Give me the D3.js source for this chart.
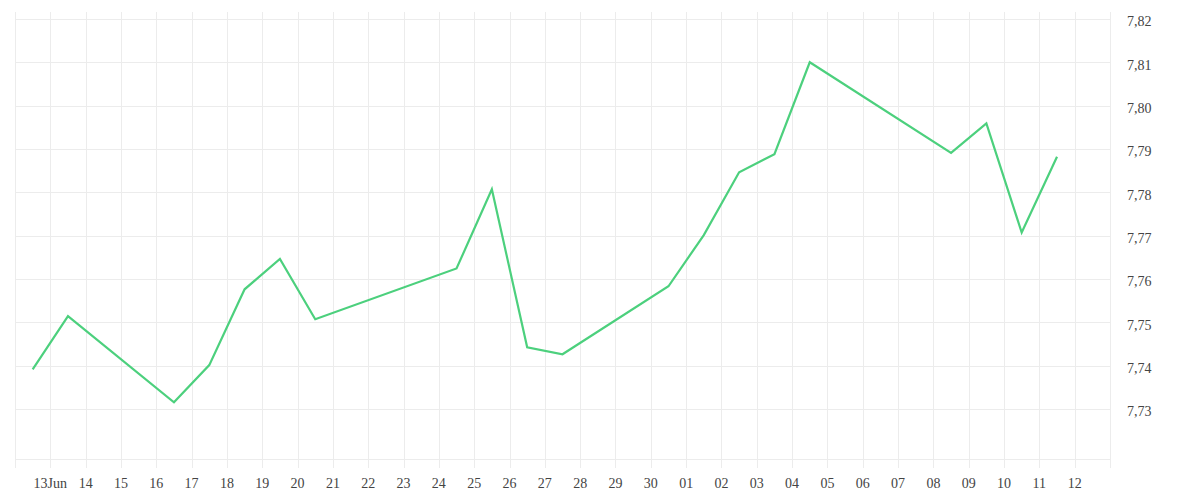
<!DOCTYPE html>
<html>
<head>
<meta charset="utf-8">
<script src="https://cdn.jsdelivr.net/npm/d3@7"></script>
<style>
  html, body { margin: 0; padding: 0; background: #fff; }
  svg { display: block; }
  text { font-family: "Liberation Serif", serif; font-size: 14px; fill: #444; }
</style>
</head>
<body>
<svg id="chart" width="1200" height="500"></svg>
<script>
// Data (dates as "YYYY-MM-DD", value at midday)
const dates = [
  "2020-06-12","2020-06-13","2020-06-16","2020-06-17","2020-06-18","2020-06-19","2020-06-20",
  "2020-06-24","2020-06-25","2020-06-26","2020-06-27","2020-06-30","2020-07-01","2020-07-02",
  "2020-07-03","2020-07-04","2020-07-08","2020-07-09","2020-07-10","2020-07-11"
];
const values = [
  7.7391, 7.7514, 7.7315, 7.7401, 7.7576, 7.7646, 7.7507,
  7.7624, 7.7807, 7.7442, 7.7426, 7.7583, 7.7701, 7.7846,
  7.7888, 7.8100, 7.7891, 7.7959, 7.7707, 7.7882
];
const yTicks = [7.73, 7.74, 7.75, 7.76, 7.77, 7.78, 7.79, 7.80, 7.81, 7.82];
const xStart = "2020-06-12";
const xEnd = "2020-07-13";

const parse = d3.timeParse("%Y-%m-%d");
const series = dates.map((d, i) => {
  const t = parse(d);
  t.setHours(12);
  return { t, v: values[i] };
});

const svg = d3.select("#chart");
const mLeft = 15, mRight = 1110, mTop = 12, mBottom = 458.7;

const x = d3.scaleTime().domain([parse(xStart), parse(xEnd)]).range([mLeft, mRight]);
const y = d3.scaleLinear().domain([7.7185, 7.8216]).range([mBottom, mTop]);

const days = d3.timeDay.range(parse(xStart), d3.timeDay.offset(parse(xEnd), 1));

const grid = svg.append("g").attr("stroke", "#ececec").attr("stroke-width", 1).attr("shape-rendering", "crispEdges");

// vertical grid lines (extend below as ticks)
grid.selectAll("line.v").data(days).join("line")
  .attr("class", "v")
  .attr("x1", d => Math.round(x(d)) + 0.5).attr("x2", d => Math.round(x(d)) + 0.5)
  .attr("y1", mTop).attr("y2", 468);

// horizontal grid lines
grid.selectAll("line.h").data(yTicks).join("line")
  .attr("class", "h")
  .attr("x1", mLeft).attr("x2", mRight)
  .attr("y1", d => Math.round(y(d)) + 0.5).attr("y2", d => Math.round(y(d)) + 0.5);

// bottom baseline
grid.append("line")
  .attr("x1", mLeft).attr("x2", mRight)
  .attr("y1", Math.round(mBottom) + 0.5).attr("y2", Math.round(mBottom) + 0.5);

// y axis labels (right)
const fmtY = v => d3.format(".2f")(v).replace(".", ",");
svg.append("g").selectAll("text").data(yTicks).join("text")
  .attr("x", 1127)
  .attr("y", d => y(d) + 3)
  .attr("dominant-baseline", "central")
  .text(fmtY);

// x axis labels
const labelDays = days.filter((d, i) => i > 0 && i < days.length - 1);
const fmtDay = d3.timeFormat("%d");
svg.append("g").selectAll("text").data(labelDays).join("text")
  .attr("x", d => x(d))
  .attr("y", 488)
  .attr("text-anchor", "middle")
  .text((d, i) => i === 0 ? fmtDay(d) + d3.timeFormat("%b")(d) : fmtDay(d));

// line
const line = d3.line().x(d => x(d.t)).y(d => y(d.v));
svg.append("path")
  .datum(series)
  .attr("fill", "none")
  .attr("stroke", "#4cd07d")
  .attr("stroke-width", 2.2)
  .attr("stroke-linejoin", "miter")
  .attr("d", line);
</script>
</body>
</html>
